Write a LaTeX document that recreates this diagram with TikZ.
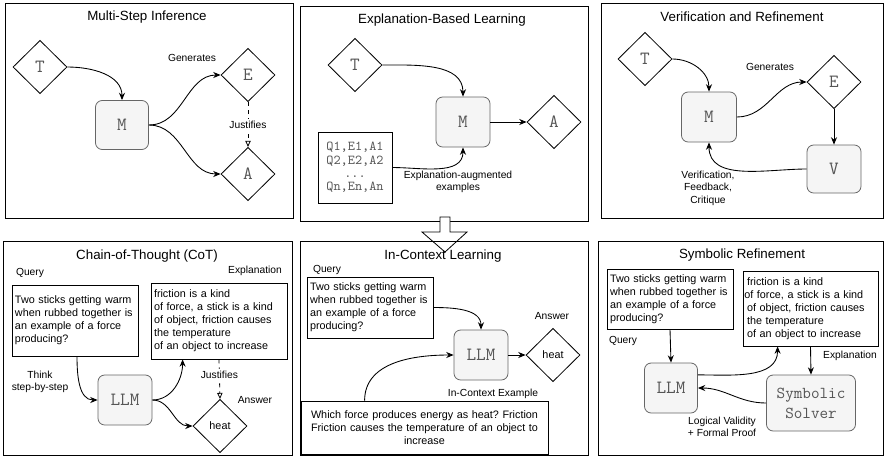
\documentclass[tikz,border=0pt]{standalone}
\usepackage{fontspec}
\setmainfont{Liberation Sans}
\usetikzlibrary{shapes.geometric,arrows.meta}
\definecolor{nodefill}{HTML}{F5F5F5}
\definecolor{nodeline}{HTML}{666666}
\definecolor{monotext}{HTML}{555555}
\frenchspacing
\tikzset{
 panel/.style={draw=black, line width=0.75pt},
 ttl/.style={font=\fontsize{10}{12}\selectfont},
 lbl/.style={font=\fontsize{7.7}{9.3}\selectfont, align=center},
 mbox/.style={draw=nodeline, fill=nodefill, rounded corners=5pt, minimum width=40.5pt, minimum height=37.5pt, font=\ttfamily\fontsize{14}{14}\selectfont, text=monotext, line width=0.6pt},
 dia/.style={diamond, draw=black, minimum width=40.5pt, minimum height=40pt, inner sep=0pt, line width=0.6pt, font=\ttfamily\fontsize{14}{14}\selectfont, text=monotext},
 dheat/.style={font=\fontsize{8.1}{9.7}\selectfont, text=black},
 tbox/.style={draw=black, line width=0.6pt, inner xsep=2.25pt, inner ysep=1pt, align=left, font=\fontsize{8.1}{9.7}\selectfont},
 arr/.style={-{Stealth[length=5.5pt,width=4.5pt]}, line width=0.65pt},
 darr/.style={dashed, -{Triangle[open,length=4.5pt,width=4pt]}, line width=0.6pt},
}
\begin{document}
\begin{tikzpicture}[x=0.75pt,y=-0.75pt]
\useasboundingbox (0,0) rectangle (886,458);
% ---------- Panel 1 ----------
\draw[panel] (5,3) rectangle (293,218);
\node[ttl] (t1) at (147,17) {Multi-Step Inference};
\node[dia] (T1) at (40,67) {T};
\node[mbox, minimum width=39.75pt, minimum height=36.75pt] (M1) at (122,125) {M};
\node[dia] (E1) at (248,75) {E};
\node[dia] (A1) at (248,174) {A};
\node[lbl] (g1) at (192,58) {Generates};
\draw[arr] (T1.east) to[out=0,in=90] (M1.north);
\draw[arr] (M1.east) to[out=0,in=180] (E1.west);
\draw[arr] (M1.east) to[out=0,in=180] (A1.west);
\draw[darr] (E1.south) -- (A1.north) node[midway, lbl, fill=white, inner sep=1pt] (j1) {Justifies};
% ---------- Panel 2 ----------
\draw[panel] (300,6) rectangle (588,221);
\node[ttl] (t2) at (442,20) {Explanation-Based Learning};
\node[dia] (T2) at (355,65) {T};
\node[mbox] (M2) at (463,122) {M};
\node[dia] (A2) at (554,122) {A};
\node[tbox, align=center, font=\ttfamily\fontsize{10.2}{10}\selectfont, text=monotext, text width=51pt, minimum width=55.5pt, minimum height=53.25pt] (X2) at (355,167.5) {Q1,E1,A1\\Q2,E2,A2\\...\\Qn,En,An};
\node[lbl] (x2l) at (458,182) {Explanation-augmented\\examples};
\draw[arr] (T2.east) to[out=0,in=90] (M2.north);
\draw[arr] (X2.east) to[out=0,in=-90] (M2.south);
\draw[arr] (M2) -- (A2);
% hollow arrow
\draw[line width=0.6pt, fill=white] (440,217) -- (450,217) -- (450,232) -- (467,232) -- (445,252) -- (422,232) -- (440,232) -- cycle;
% ---------- Panel 3 ----------
\draw[panel] (601,3) rectangle (883,218);
\node[ttl] (t3) at (742,17) {Verification and Refinement};
\node[dia] (T3) at (645,59) {T};
\node[mbox, minimum width=41.25pt] (M3) at (709,117) {M};
\node[dia] (E3) at (834,82) {E};
\node[mbox, minimum height=36pt] (V3) at (834,169) {V};
\node[lbl] (g3) at (770,67) {Generates};
\node[lbl] (f3) at (708,188) {Verification,\\Feedback,\\Critique};
\draw[arr] (T3.east) to[out=0,in=90] (M3.north);
\draw[arr] (M3.east) to[out=0,in=180] (E3.west);
\draw[arr] (E3) -- (V3);
\draw[arr] (V3.west) to[out=180,in=-90] (M3.south);
% ---------- Panel 4 ----------
\draw[panel] (3,241) rectangle (292,455);
\node[ttl] (t4) at (147,256) {Chain-of-Thought (CoT)};
\node[lbl] (q4l) at (30,273) {Query};
\node[lbl] (x4l) at (255,271) {Explanation};
\node[tbox, text width=90pt, minimum width=94.5pt, minimum height=53.25pt] (Q4) at (75,320.5) {Two sticks getting warm\\when rubbed together is\\an example of a force\\producing?};
\node[tbox, text width=97.5pt, minimum width=102pt, minimum height=57pt] (X4) at (219,321) {friction is a kind\\of force, a stick is a kind\\of object, friction causes\\the temperature\\of an object to increase};
\node[mbox] (L4) at (125,400) {LLM};
\node[dia, dheat] (H4) at (220,426) {heat};
\node[lbl] (a4l) at (255,400) {Answer};
\node[lbl] (s4l) at (40,382) {Think\\step-by-step};
\draw[arr] ([xshift=1.5pt]Q4.south) to[out=-90,in=180] (L4.west);
\draw[arr] (L4.east) to[out=0,in=-90] ([xshift=24pt]X4.south west);
\draw[arr] (L4.east) to[out=0,in=180] (H4.west);
\draw[darr] (X4.south) -- (H4.north) node[pos=0.38, lbl, fill=white, inner sep=1pt] (j4) {Justifies};
% ---------- Panel 5 ----------
\draw[panel] (300,241) rectangle (588,455);
\node[ttl] (t5) at (443,256) {In-Context Learning};
\node[lbl] (q5l) at (327,270) {Query};
\node[tbox, text width=90pt, minimum width=94.5pt, minimum height=45.75pt] (Q5) at (370,307.5) {Two sticks getting warm\\when rubbed together is\\an example of a force\\producing?};
\node[mbox] (L5) at (481,355) {LLM};
\node[dia, dheat] (H5) at (553,355) {heat};
\node[lbl] (a5l) at (552,316) {Answer};
\node[lbl] (e5l) at (493,394) {In-Context Example};
\node[tbox, align=center, text width=180.75pt, minimum width=185.25pt, minimum height=39.75pt] (X5) at (424.5,427.5) {Which force produces energy as heat? Friction\\Friction causes the temperature of an object to\\increase};
\draw[arr] (Q5.east) to[out=0,in=90] (L5.north);
\draw[arr] ([xshift=48pt]X5.north west) to[out=90,in=180] (L5.west);
\draw[arr] (L5) -- (H5);
% ---------- Panel 6 ----------
\draw[panel] (598,241) rectangle (883,455);
\node[ttl] (t6) at (742,255) {Symbolic Refinement};
\node[tbox, text width=90pt, minimum width=94.5pt, minimum height=45pt] (Q6) at (670,299) {Two sticks getting warm\\when rubbed together is\\an example of a force\\producing?};
\node[lbl] (q6l) at (623,341) {Query};
\node[tbox, inner xsep=1pt, text width=99.25pt, minimum width=101.25pt, minimum height=56.25pt] (X6) at (810.5,308.5) {\hspace*{2pt}friction is a kind\\of force, a stick is a kind\\\hspace*{2pt}of object, friction causes\\\hspace*{2pt}the temperature\\\hspace*{2pt}\makebox[\dimexpr\linewidth-2pt][s]{of an object to increase}};
\node[lbl] (x6l) at (850,356) {Explanation};
\node[mbox, minimum width=39.75pt] (L6) at (671,388) {LLM};
\node[mbox, minimum width=66.75pt, minimum height=42pt, font=\ttfamily\fontsize{12.5}{15}\selectfont, align=center] (S6) at (811,403) {Symbolic\\Solver};
\node[lbl] (v6l) at (722,427) {Logical Validity\\+ Formal Proof};
\draw[arr] (Q6.south) -- (L6.north);
\draw[arr] (L6.26) to[out=0,in=-90] ([xshift=26.25pt]X6.south west);
\draw[arr] (X6.south) -- (S6.north);
\draw[arr] (S6.west) to[out=180,in=0] (L6.east);
\end{tikzpicture}
\end{document}
